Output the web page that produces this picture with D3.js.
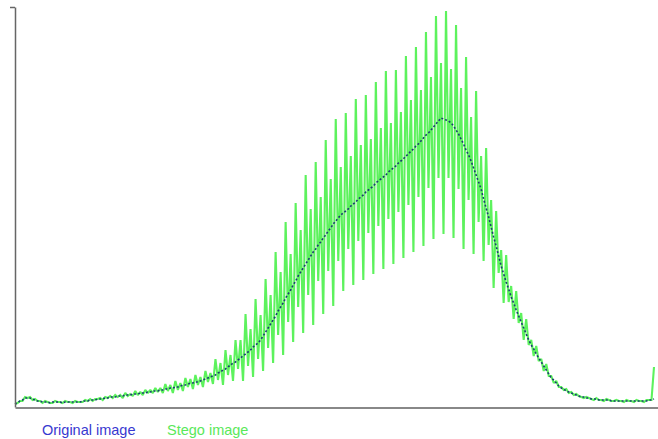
<!DOCTYPE html>
<html>
<head>
<meta charset="utf-8">
<script src="https://cdn.jsdelivr.net/npm/d3@7"></script>
<style>
  html, body { margin: 0; padding: 0; background: #ffffff; }
  svg { display: block; }
</style>
</head>
<body>
<svg id="chart" width="658" height="439"></svg>
<script>
// Gray levels 0..255
const grayLevels = d3.range(256);

// Histogram of the original image (pixel counts, arbitrary units)
const original = [
  3,4,6,7,9,9,9,8,
  7,6,6,5,5,5,4,5,
  5,5,5,4,5,5,5,5,
  5,5,5,6,6,6,7,7,
  7,8,8,8,9,9,10,10,
  10,11,11,11,12,12,12,13,
  13,13,14,14,14,15,15,16,
  16,16,17,17,18,18,19,19,
  20,20,21,22,22,23,24,24,
  25,25,26,27,28,29,30,31,
  32,34,35,37,38,40,42,44,
  45,47,49,51,53,55,57,60,
  62,64,67,71,75,79,83,87,
  91,96,100,104,109,113,117,122,
  126,131,135,139,143,147,151,155,
  158,162,165,169,172,176,179,183,
  186,189,192,194,196,198,201,203,
  205,208,210,212,215,217,219,221,
  224,226,228,230,232,235,237,239,
  241,244,246,248,251,253,256,258,
  261,263,266,269,272,274,277,280,
  283,286,289,288,287,286,284,281,
  277,273,268,263,257,252,246,239,
  232,225,218,208,199,190,180,170,
  161,151,141,133,125,118,110,104,
  97,91,85,79,73,67,62,58,
  53,49,45,41,37,33,29,27,
  24,21,19,18,16,15,14,13,
  12,11,10,10,9,9,8,8,
  8,7,7,7,7,7,6,6,
  6,6,6,6,6,6,6,6,
  6,6,6,6,6,7,7,8
];

// Histogram of the stego image
const stego = [
  3,4,6,6,10,9,10,7,
  8,6,6,4,6,5,4,4,
  6,5,5,4,6,5,5,4,
  6,5,5,5,7,6,8,6,
  8,8,9,7,10,9,11,9,
  12,10,12,9,14,11,13,11,
  16,12,15,12,17,14,17,14,
  19,15,19,14,23,16,22,14,
  26,17,24,16,29,20,28,18,
  32,22,30,20,36,25,34,23,
  48,27,44,22,57,32,52,26,
  67,38,67,26,93,41,78,30,
  108,48,92,36,128,59,112,44,
  155,72,135,52,185,85,153,65,
  204,100,177,74,232,112,198,82,
  245,126,210,93,267,136,228,101,
  288,146,240,116,294,158,251,122,
  308,166,262,127,312,174,268,133,
  325,181,279,138,336,188,284,143,
  337,195,295,149,351,202,307,155,
  360,210,317,161,375,219,330,168,
  391,229,344,173,396,229,338,169,
  382,218,319,158,350,207,290,153,
  316,185,251,146,259,162,207,119,
  196,134,157,104,152,105,121,88,
  116,84,94,67,88,62,67,51,
  61,46,48,36,43,31,31,24,
  26,20,20,17,18,14,15,12,
  13,11,10,9,10,9,8,7,
  9,7,7,6,8,7,6,6,
  7,6,6,5,7,6,6,5,
  7,6,6,5,7,7,7,40
];

const seriesNames = ["Original image", "Stego image"];
const seriesColors = ["#3838d0", "#5ae85a"];

const svg = d3.select("#chart");

const x = d3.scaleLinear().domain([0, 255]).range([15, 654]);
const y = d3.scaleLinear().domain([0, 400]).range([407, 7]);

const line = d3.line()
  .x((d, i) => x(grayLevels[i]))
  .y(d => y(d));

// Stego line (drawn first)
svg.append("path")
  .datum(stego)
  .attr("fill", "none")
  .attr("stroke", "#5df25d")
  .attr("stroke-width", 2.1)
  .attr("stroke-linejoin", "miter")
  .attr("stroke-miterlimit", 1.5)
  .attr("d", line);

// Original line (dotted, on top)
svg.append("path")
  .datum(original)
  .attr("fill", "none")
  .attr("stroke", "#1a4070")
  .attr("stroke-width", 1.6)
  .attr("stroke-dasharray", "2,2")
  .attr("d", line);

// Axes
const yAxis = d3.axisLeft(y).tickValues([400]).tickSize(5).tickSizeOuter(0).tickFormat("");
const gy = svg.append("g").attr("transform", "translate(15,0)").call(yAxis);
gy.select(".domain").attr("stroke", "#666").attr("stroke-width", 1.5);
gy.selectAll(".tick line").attr("stroke", "#666").attr("stroke-width", 1.5);

const xBottom = d3.scaleLinear().domain([0, 255]).range([15, 658]);
const xAxis = d3.axisBottom(xBottom).tickValues([]).tickSizeOuter(0);
const gx = svg.append("g").attr("transform", "translate(0,407.5)").call(xAxis);
gx.select(".domain").attr("stroke", "#888").attr("stroke-width", 2);

// Legend
const legendX = [42, 167];
svg.selectAll("text.legend")
  .data(seriesNames)
  .enter().append("text")
  .attr("class", "legend")
  .attr("x", (d, i) => legendX[i])
  .attr("y", 435)
  .attr("font-family", "Liberation Sans, Arial, sans-serif")
  .attr("font-size", 14.5)
  .attr("fill", (d, i) => seriesColors[i])
  .text(d => d);
</script>
</body>
</html>
